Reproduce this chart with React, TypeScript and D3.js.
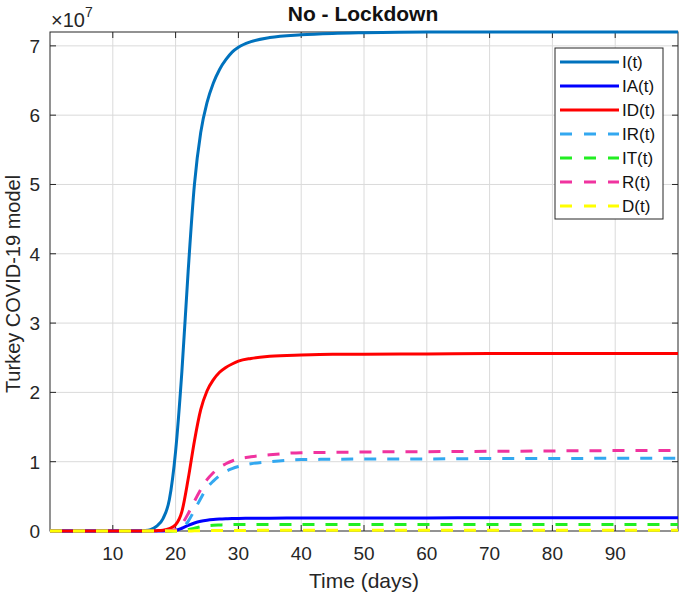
import React from "react";
import * as d3 from "d3";

// Time (days) sample points
const days = [0, 5, 10, 14, 15, 16, 17, 18, 19, 20, 21, 22, 23, 24, 25, 26, 27, 28, 29, 30, 32, 35, 40, 45, 50, 60, 70, 80, 90, 100];

// Values in units of 1e7
const valI = [0, 0, 0, 0, 0.005, 0.02, 0.07, 0.18, 0.45, 1.15, 2.3, 3.75, 5.0, 5.75, 6.18, 6.46, 6.66, 6.8, 6.91, 6.98, 7.06, 7.12, 7.16, 7.18, 7.19, 7.2, 7.2, 7.2, 7.2, 7.2];
const valIA = [0, 0, 0, 0, 0, 0, 0, 0, 0.002, 0.01, 0.04, 0.08, 0.115, 0.14, 0.156, 0.166, 0.172, 0.176, 0.179, 0.181, 0.183, 0.185, 0.187, 0.188, 0.188, 0.189, 0.19, 0.19, 0.19, 0.19];
const valID = [0, 0, 0, 0, 0, 0.002, 0.005, 0.012, 0.035, 0.09, 0.28, 0.75, 1.3, 1.75, 2.02, 2.18, 2.29, 2.36, 2.41, 2.45, 2.49, 2.52, 2.54, 2.55, 2.55, 2.555, 2.56, 2.56, 2.56, 2.56];
const valIR = [0, 0, 0, 0, 0, 0, 0, 0, 0, 0.01, 0.04, 0.14, 0.3, 0.47, 0.62, 0.72, 0.8, 0.86, 0.9, 0.93, 0.97, 1.0, 1.03, 1.035, 1.04, 1.04, 1.045, 1.045, 1.05, 1.05];
const valIT = [0, 0, 0, 0, 0, 0, 0, 0, 0, 0, 0.005, 0.02, 0.04, 0.06, 0.075, 0.083, 0.087, 0.09, 0.092, 0.093, 0.094, 0.094, 0.095, 0.095, 0.095, 0.095, 0.095, 0.095, 0.095, 0.095];
const valR = [0, 0, 0, 0, 0, 0, 0, 0, 0.005, 0.02, 0.1, 0.25, 0.43, 0.6, 0.74, 0.84, 0.92, 0.97, 1.01, 1.04, 1.07, 1.1, 1.13, 1.135, 1.14, 1.145, 1.15, 1.155, 1.16, 1.16];
const valD = [0, 0, 0, 0, 0, 0, 0, 0, 0, 0, 0, 0.001, 0.002, 0.004, 0.005, 0.006, 0.007, 0.008, 0.008, 0.009, 0.009, 0.01, 0.01, 0.01, 0.01, 0.01, 0.01, 0.01, 0.01, 0.01];

const seriesNames = ["I(t)", "IA(t)", "ID(t)", "IR(t)", "IT(t)", "R(t)", "D(t)"];
const seriesValues = [valI, valIA, valID, valIR, valIT, valR, valD];
const seriesColors = ["#0072BD", "#0000FF", "#FF0000", "#33A8F0", "#22EE22", "#F0339F", "#FFFF00"];
const seriesDashed = [false, false, false, true, true, true, true];

const xTicks = [10, 20, 30, 40, 50, 60, 70, 80, 90];
const yTicks = [0, 1, 2, 3, 4, 5, 6, 7];

const W = 685;
const H = 595;
const M = { left: 50, right: 678, top: 32, bottom: 531 };
const FONT = "'Liberation Sans', Arial, Helvetica, sans-serif";
const AX = "#262626";

export default function App() {
  const x = d3.scaleLinear().domain([0, 100]).range([M.left, M.right]);
  const y = d3.scaleLinear().domain([0, 7.2]).range([M.bottom, M.top]);
  const line = d3
    .line<number>()
    .x((_, i) => x(days[i]))
    .y((v) => y(v))
    .curve(d3.curveMonotoneX);

  const legX = 555;
  const legY = 48;
  const legW = 108;
  const legH = 171;
  const legStep = 24;

  return (
    <svg
      width={W}
      height={H}
      style={{ position: "absolute", left: 0, top: 0, background: "#fff" }}
      fontFamily={FONT}
    >
      <rect x={0} y={0} width={W} height={H} fill="#fff" />
      <defs>
        <clipPath id="plotclip">
          <rect x={M.left} y={M.top - 2} width={M.right - M.left} height={M.bottom - M.top + 4} />
        </clipPath>
      </defs>
      {/* grid */}
      {xTicks.map((t) => (
        <line key={"gx" + t} x1={x(t)} x2={x(t)} y1={M.top} y2={M.bottom} stroke="#dadada" strokeWidth={1} />
      ))}
      {yTicks.slice(1).map((t) => (
        <line key={"gy" + t} x1={M.left} x2={M.right} y1={y(t)} y2={y(t)} stroke="#dadada" strokeWidth={1} />
      ))}
      {/* axes box */}
      <rect x={M.left} y={M.top} width={M.right - M.left} height={M.bottom - M.top} fill="none" stroke={AX} strokeWidth={1} />
      {/* ticks */}
      {xTicks.map((t) => (
        <g key={"tx" + t}>
          <line x1={x(t)} x2={x(t)} y1={M.bottom} y2={M.bottom - 6} stroke={AX} />
          <line x1={x(t)} x2={x(t)} y1={M.top} y2={M.top + 6} stroke={AX} />
          <text x={x(t)} y={560} textAnchor="middle" fontSize={19} fill={AX}>
            {t}
          </text>
        </g>
      ))}
      {yTicks.map((t) => (
        <g key={"ty" + t}>
          <line x1={M.left} x2={M.left + 6} y1={y(t)} y2={y(t)} stroke={AX} />
          <line x1={M.right} x2={M.right - 6} y1={y(t)} y2={y(t)} stroke={AX} />
          <text x={40} y={y(t) + 7} textAnchor="end" fontSize={19} fill={AX}>
            {t}
          </text>
        </g>
      ))}
      {/* series */}
      <g clipPath="url(#plotclip)">
        {seriesValues.map((vals, i) => (
          <path
            key={seriesNames[i]}
            d={line(vals) || ""}
            fill="none"
            stroke={seriesColors[i]}
            strokeWidth={3}
            strokeDasharray={seriesDashed[i] ? "12 11" : undefined}
          />
        ))}
      </g>
      {/* exponent */}
      <text x={51} y={27} fontSize={20} fill={AX}>
        ×10
        <tspan dy={-10} fontSize={14}>
          7
        </tspan>
      </text>
      {/* title */}
      <text x={363} y={21} textAnchor="middle" fontSize={21} fontWeight="bold" fill="#111">
        No - Lockdown
      </text>
      {/* axis labels */}
      <text x={364} y={588} textAnchor="middle" fontSize={21} fill={AX}>
        Time (days)
      </text>
      <text transform={`translate(20,284) rotate(-90)`} textAnchor="middle" fontSize={20} fill={AX}>
        Turkey COVID-19 model
      </text>
      {/* legend */}
      <rect x={legX} y={legY} width={legW} height={legH} fill="#fff" stroke={AX} strokeWidth={1} />
      {seriesNames.map((name, i) => {
        const cy = legY + 14 + i * legStep;
        return (
          <g key={"leg" + name}>
            <line
              x1={560}
              x2={619}
              y1={cy}
              y2={cy}
              stroke={seriesColors[i]}
              strokeWidth={3}
              strokeDasharray={seriesDashed[i] ? "12 12" : undefined}
            />
            <text x={622} y={cy + 6} fontSize={17} fill="#111">
              {name}
            </text>
          </g>
        );
      })}
    </svg>
  );
}
